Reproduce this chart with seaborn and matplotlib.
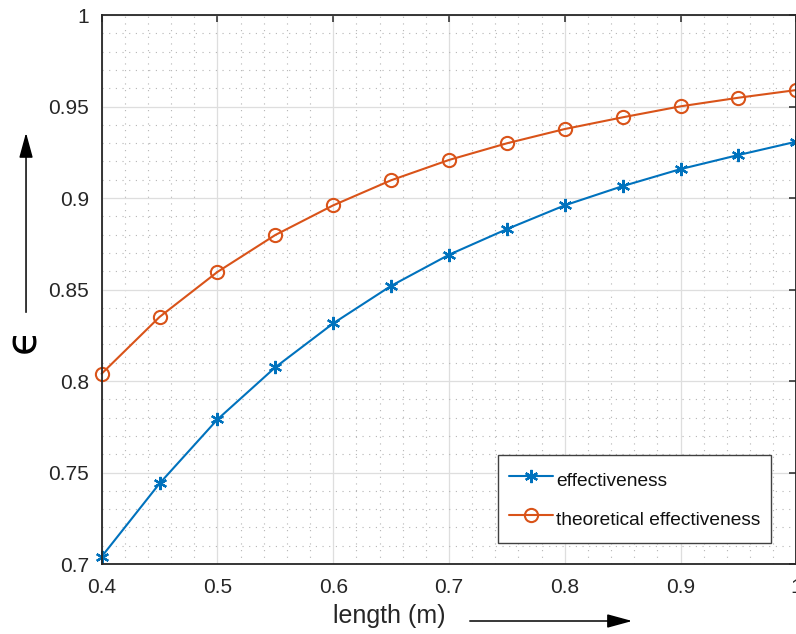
import numpy as np
import pandas as pd
import seaborn as sns
import matplotlib.pyplot as plt
from matplotlib.patches import FancyArrowPatch
from matplotlib.ticker import MultipleLocator, FuncFormatter

length = [0.4, 0.45, 0.5, 0.55, 0.6, 0.65, 0.7, 0.75, 0.8, 0.85, 0.9, 0.95, 1.0]
effectiveness = [0.704, 0.744, 0.779, 0.8075, 0.8315, 0.852, 0.869, 0.883,
                 0.896, 0.9065, 0.9158, 0.9235, 0.9308]
theoretical = [0.804, 0.835, 0.8596, 0.8798, 0.896, 0.9097, 0.9208, 0.9299,
               0.9377, 0.9441, 0.9501, 0.9548, 0.959]

df = pd.DataFrame({'length': length, 'effectiveness': effectiveness,
                   'theoretical effectiveness': theoretical})

sns.set_style('white')
plt.rcParams['font.family'] = ['Liberation Sans', 'DejaVu Sans']

fig = plt.figure(figsize=(7.96, 6.34), dpi=100)
ax = fig.add_axes([0.1277, 0.1104, 0.8727, 0.8659])

blue = '#0072BD'
orange = '#D95319'
sns.lineplot(data=df, x='length', y='effectiveness', ax=ax, color=blue,
             marker=(6, 2, 0), markersize=9.5, markeredgewidth=1.6,
             markeredgecolor=blue, linewidth=1.5,
             label='effectiveness', clip_on=False)
sns.lineplot(data=df, x='length', y='theoretical effectiveness', ax=ax,
             color=orange, marker='o', markersize=9.5, markerfacecolor='none',
             markeredgecolor=orange, markeredgewidth=1.5, linewidth=1.5,
             label='theoretical effectiveness', clip_on=False)

ax.set_xlim(0.4, 1.0)
ax.set_ylim(0.7, 1.0)
ax.xaxis.set_major_locator(MultipleLocator(0.1))
ax.xaxis.set_minor_locator(MultipleLocator(0.02))
ax.yaxis.set_major_locator(MultipleLocator(0.05))
ax.yaxis.set_minor_locator(MultipleLocator(0.01))
fmt = FuncFormatter(lambda v, p: '%g' % round(v, 3))
ax.xaxis.set_major_formatter(fmt)
ax.yaxis.set_major_formatter(fmt)

ax.grid(True, which='major', color='#dedede', linestyle='-', linewidth=0.9)
ax.grid(True, which='minor', color='#b5b5b5', linestyle=(0, (1, 5)), linewidth=0.8)
ax.set_axisbelow(True)

ax.tick_params(which='major', direction='in', length=5, width=1.1,
               top=True, right=True, labelsize=15, colors='#262626')
ax.tick_params(axis='x', which='major', pad=10)
ax.tick_params(axis='y', which='major', pad=9)
ax.tick_params(which='minor', length=0)
for s in ax.spines.values():
    s.set_color('#262626')
    s.set_linewidth(1.3)

ax.set_xlabel('')
ax.set_ylabel('')

leg = ax.legend(loc='lower right', bbox_to_anchor=(0.9635, 0.038), fontsize=13.8,
                frameon=True, fancybox=False, framealpha=1, edgecolor='#404040',
                handlelength=2.3, handletextpad=0.2, handleheight=1.9,
                labelspacing=0.56, borderpad=0.53, borderaxespad=0)
leg.get_frame().set_linewidth(1.0)
for t in leg.get_texts():
    t.set_color('#111111')

# axis labels with arrows
fig.text(0.489, 0.028, 'length (m)', fontsize=18, ha='center', va='center',
         color='#262626')
fig.patches.append(FancyArrowPatch(
    (0.5867, 0.0205), (0.7977, 0.0205), transform=fig.transFigure,
    arrowstyle='-|>,head_length=1.1,head_width=0.3', mutation_scale=14,
    color='black', linewidth=1.1))
fig.text(0.0295, 0.463, '\u03f5', fontsize=30, ha='center', va='center',
         rotation=90, color='black', family='DejaVu Sans')
fig.patches.append(FancyArrowPatch(
    (0.0327, 0.503), (0.0327, 0.795), transform=fig.transFigure,
    arrowstyle='-|>,head_length=1.1,head_width=0.3', mutation_scale=14,
    color='black', linewidth=1.1))

fig.savefig('out.png', dpi=100)
